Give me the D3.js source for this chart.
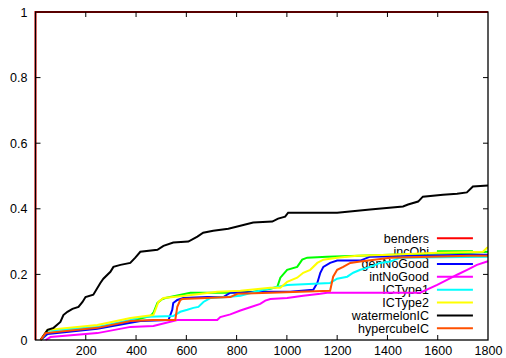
<!DOCTYPE html>
<html>
<head>
<meta charset="utf-8">
<script src="https://cdn.jsdelivr.net/npm/d3@7"></script>
<style>
  body { margin: 0; background: #fff; }
  text { font-family: "Liberation Sans", Arial, Helvetica, sans-serif; font-size: 12.5px; fill: #000; }
</style>
</head>
<body>
<div id="chart"></div>
<script>
// series names, in plot order
const seriesNames = ["benders", "incObj", "genNoGood", "intNoGood", "ICType1", "ICType2", "watermelonIC", "hypercubeIC"];
const seriesColors = ["#ff0000", "#00ff00", "#0000ff", "#ff00ff", "#00ffff", "#ffff00", "#000000", "#ff5000"];

const xTicks = [200, 400, 600, 800, 1000, 1200, 1400, 1600, 1800];
const yTicks = [0, 0.2, 0.4, 0.6, 0.8, 1];

// [time, fraction solved]
const benders = [[0, 0], [0, 1], [1800, 1]];
const incObj = [[20, 0], [48, 0.021], [246, 0.037], [378, 0.058], [457, 0.073], [469, 0.083], [485, 0.113], [505, 0.125], [517, 0.128], [616, 0.144], [763, 0.144], [866, 0.147], [934, 0.156], [962, 0.162], [974, 0.19], [1001, 0.214], [1041, 0.223], [1061, 0.245], [1081, 0.251], [1160, 0.254], [1411, 0.26], [1729, 0.266], [1800, 0.269]];
const genNoGood = [[20, 0], [48, 0.018], [246, 0.034], [417, 0.058], [529, 0.061], [544, 0.092], [548, 0.113], [564, 0.122], [588, 0.128], [684, 0.131], [747, 0.131], [775, 0.144], [934, 0.147], [1013, 0.147], [1105, 0.153], [1121, 0.174], [1133, 0.205], [1145, 0.223], [1172, 0.235], [1200, 0.242], [1292, 0.242], [1331, 0.254], [1729, 0.26], [1800, 0.26]];
const intNoGood = [[40, 0], [60, 0.009], [246, 0.021], [378, 0.04], [469, 0.043], [564, 0.061], [723, 0.061], [735, 0.07], [775, 0.078], [815, 0.09], [854, 0.1], [894, 0.11], [914, 0.12], [934, 0.125], [1001, 0.128], [1065, 0.135], [1133, 0.141], [1160, 0.144], [1530, 0.144], [1598, 0.168], [1637, 0.183], [1677, 0.199], [1717, 0.214], [1756, 0.229], [1800, 0.24]];
const ICType1 = [[20, 0], [48, 0.028], [246, 0.04], [378, 0.061], [417, 0.07], [548, 0.073], [576, 0.086], [604, 0.092], [628, 0.098], [648, 0.101], [668, 0.116], [695, 0.128], [763, 0.131], [815, 0.135], [906, 0.153], [1001, 0.168], [1172, 0.174], [1200, 0.187], [1240, 0.193], [1264, 0.205], [1292, 0.214], [1331, 0.223], [1371, 0.235], [1411, 0.239], [1451, 0.251], [1800, 0.254]];
const ICType2 = [[20, 0], [48, 0.031], [246, 0.046], [378, 0.067], [469, 0.076], [477, 0.092], [489, 0.116], [509, 0.128], [548, 0.131], [628, 0.138], [723, 0.147], [815, 0.15], [934, 0.159], [974, 0.159], [1001, 0.177], [1041, 0.19], [1065, 0.205], [1093, 0.214], [1121, 0.235], [1145, 0.245], [1200, 0.251], [1280, 0.257], [1411, 0.26], [1598, 0.266], [1780, 0.269], [1796, 0.281], [1800, 0.281]];
const watermelonIC = [[20, 0], [48, 0.031], [72, 0.037], [99, 0.055], [111, 0.076], [127, 0.086], [147, 0.095], [171, 0.101], [187, 0.116], [199, 0.131], [230, 0.138], [258, 0.174], [270, 0.187], [298, 0.208], [310, 0.223], [338, 0.229], [377, 0.235], [397, 0.251], [417, 0.269], [485, 0.275], [509, 0.287], [548, 0.297], [608, 0.3], [644, 0.315], [667, 0.327], [707, 0.333], [767, 0.339], [803, 0.346], [866, 0.358], [942, 0.361], [965, 0.37], [993, 0.376], [1005, 0.388], [1200, 0.388], [1331, 0.398], [1462, 0.407], [1482, 0.413], [1522, 0.422], [1541, 0.437], [1621, 0.443], [1677, 0.446], [1716, 0.45], [1740, 0.468], [1800, 0.471]];
const hypercubeIC = [[20, 0], [40, 0.021], [246, 0.037], [378, 0.058], [469, 0.061], [556, 0.061], [564, 0.101], [576, 0.122], [584, 0.125], [775, 0.131], [803, 0.141], [934, 0.144], [1172, 0.15], [1184, 0.193], [1200, 0.214], [1224, 0.223], [1252, 0.235], [1292, 0.239], [1411, 0.251], [1729, 0.257], [1800, 0.257]];

const seriesData = [benders, incObj, genNoGood, intNoGood, ICType1, ICType2, watermelonIC, hypercubeIC];

const W = 506, H = 358;
const margin = {top: 12, right: 18, bottom: 18, left: 35.5};
const width = W - margin.left - margin.right;
const height = H - margin.top - margin.bottom;

const svg = d3.select("#chart").append("svg")
  .attr("width", W)
  .attr("height", H);

const g = svg.append("g")
  .attr("transform", `translate(${margin.left},${margin.top})`);

const x = d3.scaleLinear().domain([0, 1800]).range([0, width]);
const y = d3.scaleLinear().domain([0, 1]).range([height, 0]);

// tick labels only, the frame and tick marks are drawn below
const xAxis = g.append("g")
  .attr("transform", `translate(0,${height})`)
  .call(d3.axisBottom(x).tickValues(xTicks).tickFormat(d3.format("d")).tickSize(0).tickPadding(6));
xAxis.select(".domain").remove();

const yAxis = g.append("g")
  .call(d3.axisLeft(y).tickValues(yTicks).tickFormat(d3.format("")).tickSize(0).tickPadding(8));
yAxis.select(".domain").remove();

svg.selectAll(".tick text").attr("font-family", null).attr("font-size", null);
g.selectAll("g").attr("font-family", null).attr("font-size", null);

// key text first: the curves are drawn over it
const key = g.append("g").attr("transform", `translate(${x(1565)},${y(0.31)})`);
seriesNames.forEach((name, i) => {
  key.append("text")
    .attr("x", 0)
    .attr("y", i * 12.85)
    .attr("dy", "0.35em")
    .attr("text-anchor", "end")
    .text(name);
  key.append("line")
    .attr("x1", 8).attr("x2", 44)
    .attr("y1", i * 12.85).attr("y2", i * 12.85)
    .attr("stroke", seriesColors[i])
    .attr("stroke-width", 2);
});

const line = d3.line()
  .x(d => x(d[0]))
  .y(d => y(d[1]));

g.append("g")
  .selectAll("path")
  .data(seriesData)
  .join("path")
    .attr("d", line)
    .attr("fill", "none")
    .attr("stroke", (d, i) => seriesColors[i])
    .attr("stroke-width", 2)
    .attr("stroke-linejoin", "miter");

// frame and mirrored inward ticks
g.append("rect")
  .attr("width", width).attr("height", height)
  .attr("fill", "none").attr("stroke", "#000").attr("stroke-width", 1.3);

const tl = 5;
const ticks = g.append("g").attr("stroke", "#000").attr("stroke-width", 1);
xTicks.slice(0, -1).forEach(v => {
  ticks.append("line").attr("x1", x(v)).attr("x2", x(v)).attr("y1", height).attr("y2", height - tl);
  ticks.append("line").attr("x1", x(v)).attr("x2", x(v)).attr("y1", 0).attr("y2", tl);
});
yTicks.slice(1, -1).forEach(v => {
  ticks.append("line").attr("x1", 0).attr("x2", tl).attr("y1", y(v)).attr("y2", y(v));
  ticks.append("line").attr("x1", width).attr("x2", width - tl).attr("y1", y(v)).attr("y2", y(v));
});
</script>
</body>
</html>
